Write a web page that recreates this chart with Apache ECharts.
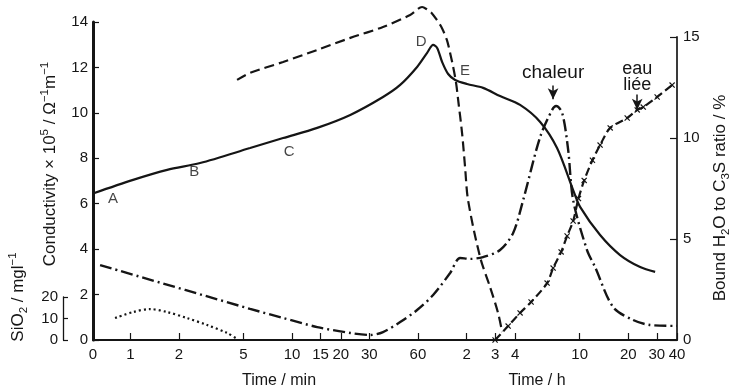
<!DOCTYPE html>
<html>
<head>
<meta charset="utf-8">
<script src="https://cdn.jsdelivr.net/npm/echarts@6.0.0/dist/echarts.min.js"></script>
<style>
  html, body { margin: 0; padding: 0; background: #ffffff; }
  #chart { width: 734px; height: 392px; }
</style>
</head>
<body>
<div id="chart"></div>
<script>
// Time axis: logarithmic in minutes, with the origin "0" placed just left of 1 min.
const tickMinutes = [0, 1, 2, 5, 10, 15, 20, 30, 60, 120, 180, 240, 600, 1200, 1800, 2400];
const tickLabels  = ['0', '1', '2', '5', '10', '15', '20', '30', '60', '2', '3', '4', '10', '20', '30', '40'];

// Conductivity (× 10^5 Ω^-1 m^-1), solid line
const condTime  = [0, 1.04, 1.69, 2.70, 5.5, 8.8, 14.3, 22.9, 36.5, 46.6, 59.3, 68.4, 74.5, 78.9, 84.7, 92.3, 101.9, 120.8, 151.7, 193.2, 257, 342, 435, 547, 604, 803, 1067, 1420, 1758];
const condValue = [6.45, 7.05, 7.49, 7.79, 8.45, 8.89, 9.34, 9.91, 10.70, 11.23, 12.02, 12.64, 12.99, 12.86, 12.24, 11.71, 11.45, 11.27, 11.10, 10.74, 10.35, 9.60, 8.45, 6.60, 5.86, 4.62, 3.74, 3.21, 3.0];

// Second conductivity trace, dashed line
const dashTime  = [4.57, 5.5, 8.8, 14.3, 22.9, 36.5, 53.7, 63.7, 68.4, 73.1, 78.5, 84.4, 90.6, 94.9, 99.1, 103.3, 106.4, 112.5, 117.4, 122.5, 145.4, 167.6, 187.8, 199];
const dashValue = [11.45, 11.76, 12.24, 12.77, 13.30, 13.78, 14.31, 14.66, 14.55, 14.39, 14.09, 13.74, 13.21, 12.64, 12.02, 11.32, 10.57, 9.11, 7.62, 6.16, 3.65, 2.33, 1.19, 0.35];

// Heat flow ("chaleur"), dash-dot line
const heatTime  = [0.65, 5.5, 8.8, 14.3, 22.9, 30.3, 36.5, 46.6, 59.3, 74.5, 94.9, 109.4, 126.1, 151.7, 193.2, 232.8, 268.5, 342, 405.6, 429.5, 467.9, 509.6, 547, 666.6, 747.6, 966, 1284, 1637, 2400];
const heatValue = [3.30, 1.37, 0.97, 0.57, 0.31, 0.22, 0.35, 0.79, 1.32, 1.98, 2.95, 3.61, 3.57, 3.65, 3.96, 4.71, 6.16, 8.94, 10.13, 10.30, 10.0, 8.37, 6.16, 3.96, 3.21, 1.45, 0.88, 0.66, 0.62];

// Dissolved SiO2 (mg/l), dotted line
const silicaTime  = [0.804, 1.04, 1.32, 1.69, 2.24, 2.98, 3.96, 4.57];
const silicaValue = [10.2, 13.0, 14.4, 13.0, 10.2, 7.0, 3.3, 0.5];

// Bound H2O to C3S ratio (%), dashed line with crosses
const boundTime  = [180, 216.8, 257, 300.6, 377.6, 411.4, 461, 502, 547, 590, 640, 720, 803, 927, 1181, 1362, 1484, 1809, 2239];
const boundValue = [0, 0.69, 1.34, 1.88, 2.82, 3.56, 4.36, 5.15, 5.89, 7.0, 7.9, 8.9, 9.65, 10.50, 10.99, 11.39, 11.53, 12.03, 12.62];

// Stage letters on the conductivity curve
const stageNames = ['A', 'B', 'C', 'D', 'E'];
const stageTime  = [0.78, 2.48, 9.6, 62.8, 117.5];
const stageValue = [6.2, 7.4, 8.28, 13.12, 11.85];

// Arrow markers
const heatArrowTime = 411, heatArrowFrom = 11.2, heatArrowTo = 10.6;
const boundArrowTime = 1362, boundArrowFrom = 12.15, boundArrowTo = 11.4;

const FONT = "'Liberation Sans', Arial, Helvetica, sans-serif";
const INK = '#151515';

const AXIS_START = -0.231;              // position of the "0" origin on the log scale
const AXIS_END = Math.log10(2400);      // 40 h
function xPos(t) { return t <= 0 ? AXIS_START : Math.log10(t); }
function pairs(ts, vs) { return ts.map((t, i) => [xPos(t), vs[i]]); }

const tickPos = tickMinutes.map(xPos);
function tickLabel(v) {
  let best = 0;
  for (let i = 1; i < tickPos.length; i++) {
    if (Math.abs(tickPos[i] - v) < Math.abs(tickPos[best] - v)) best = i;
  }
  return tickLabels[best];
}

const crossPath = 'path://M0,1.4L1.4,0L5,3.6L8.6,0L10,1.4L6.4,5L10,8.6L8.6,10L5,6.4L1.4,10L0,8.6L3.6,5Z';

const gridBox = { left: 93, right: 57, bottom: 52 };
const hiddenX = (g) => ({ gridIndex: g, type: 'value', min: AXIS_START, max: AXIS_END, show: false });

const titleRich = {
  n:   { fontSize: 17, lineHeight: 23, verticalAlign: 'middle', fontFamily: FONT, fill: INK },
  sup: { fontSize: 11.5, lineHeight: 11, verticalAlign: 'top', fontFamily: FONT, fill: INK },
  sub: { fontSize: 11.5, lineHeight: 17, verticalAlign: 'bottom', fontFamily: FONT, fill: INK }
};

const chart = echarts.init(document.getElementById('chart'), null, { renderer: 'canvas' });

chart.setOption({
  animation: false,
  backgroundColor: '#ffffff',
  textStyle: { fontFamily: FONT, color: INK },
  grid: [
    Object.assign({ top: 22 }, gridBox),
    Object.assign({ top: 37 }, gridBox),
    Object.assign({ top: 297 }, gridBox)
  ],
  xAxis: [
    {
      gridIndex: 0, type: 'value', min: AXIS_START, max: AXIS_END,
      axisLine: { show: true, onZero: false, lineStyle: { color: INK, width: 2 } },
      axisTick: { show: true, inside: true, length: 7, customValues: tickPos, lineStyle: { color: INK, width: 1.2 } },
      axisLabel: { customValues: tickPos, formatter: tickLabel, margin: 7, fontSize: 15, color: INK, fontFamily: FONT },
      splitLine: { show: false }
    },
    hiddenX(1),
    hiddenX(2)
  ],
  yAxis: [
    {
      gridIndex: 0, type: 'value', position: 'left', min: 0, max: 14, interval: 2,
      axisLine: { show: true, onZero: false, lineStyle: { color: INK, width: 3 } },
      axisTick: { show: true, inside: true, length: 6, lineStyle: { color: INK, width: 1.2 } },
      axisLabel: { margin: 5, fontSize: 15, color: INK, fontFamily: FONT, showMinLabel: true, showMaxLabel: true },
      splitLine: { show: false }
    },
    {
      gridIndex: 1, type: 'value', position: 'right', min: 0, max: 15, interval: 5,
      axisLine: { show: true, onZero: false, lineStyle: { color: '#3a3a3a', width: 2 } },
      axisTick: { show: true, inside: true, length: 7, lineStyle: { color: INK, width: 1.2 } },
      axisLabel: { margin: 6, fontSize: 15, color: INK, fontFamily: FONT, showMinLabel: true, showMaxLabel: true },
      splitLine: { show: false }
    },
    {
      gridIndex: 2, type: 'value', position: 'left', offset: 30, min: 0, max: 20, interval: 10,
      axisLine: { show: true, onZero: false, lineStyle: { color: INK, width: 1.3 } },
      axisTick: { show: true, inside: true, length: 5, lineStyle: { color: INK, width: 1.2 } },
      axisLabel: { margin: 5, fontSize: 15, color: INK, fontFamily: FONT, showMinLabel: true, showMaxLabel: true },
      splitLine: { show: false }
    }
  ],
  series: [
    {
      name: 'conductivity', type: 'line', xAxisIndex: 0, yAxisIndex: 0,
      data: pairs(condTime, condValue), smooth: 0.3, showSymbol: false, clip: false,
      lineStyle: { color: INK, width: 2.2 }
    },
    {
      name: 'conductivity-2', type: 'line', xAxisIndex: 0, yAxisIndex: 0,
      data: pairs(dashTime, dashValue), smooth: 0.3, showSymbol: false, clip: false,
      lineStyle: { color: INK, width: 2.2, type: [10, 5] }
    },
    {
      name: 'chaleur', type: 'line', xAxisIndex: 0, yAxisIndex: 0,
      data: pairs(heatTime, heatValue), smooth: 0.3, showSymbol: false, clip: false,
      lineStyle: { color: INK, width: 2.4, type: [12, 4, 2, 4] },
      markLine: {
        silent: true, symbol: ['none', 'arrow'], symbolSize: [8, 11],
        lineStyle: { color: INK, width: 1.5, type: 'solid' },
        label: { show: true, position: 'start', distance: 3, formatter: 'chaleur', fontSize: 19, color: INK, fontFamily: FONT },
        data: [[{ coord: [xPos(heatArrowTime), heatArrowFrom] }, { coord: [xPos(heatArrowTime), heatArrowTo] }]]
      }
    },
    {
      name: 'SiO2', type: 'line', xAxisIndex: 2, yAxisIndex: 2,
      data: pairs(silicaTime, silicaValue), smooth: 0.3, showSymbol: false, clip: false,
      lineStyle: { color: INK, width: 2.2, type: [2, 3] }
    },
    {
      name: 'eau liée', type: 'line', xAxisIndex: 1, yAxisIndex: 1,
      data: pairs(boundTime, boundValue), smooth: 0.3, clip: false,
      showSymbol: true, symbol: crossPath, symbolSize: 6,
      itemStyle: { color: INK },
      lineStyle: { color: INK, width: 2.2, type: [8, 4] },
      markLine: {
        silent: true, symbol: ['none', 'arrow'], symbolSize: [8, 11],
        lineStyle: { color: INK, width: 1.5, type: 'solid' },
        label: { show: true, position: 'start', distance: 2, formatter: 'eau\nliée', lineHeight: 16, fontSize: 18, color: INK, fontFamily: FONT },
        data: [[{ coord: [xPos(boundArrowTime), boundArrowFrom] }, { coord: [xPos(boundArrowTime), boundArrowTo] }]]
      }
    },
    {
      name: 'stages', type: 'scatter', xAxisIndex: 0, yAxisIndex: 0,
      symbolSize: 0, silent: true,
      data: stageNames.map((n, i) => ({ name: n, value: [xPos(stageTime[i]), stageValue[i]] })),
      label: {
        show: true, position: [0, 0], align: 'center', verticalAlign: 'middle',
        formatter: (p) => p.name, fontSize: 15, color: INK, fontFamily: FONT,
        textBorderWidth: 0
      }
    }
  ],
  graphic: [
    {
      type: 'text', x: 50, y: 164, rotation: Math.PI / 2,
      style: {
        text: '{n|Conductivity × 10}{sup|5}{n| / Ω}{sup|−1}{n|m}{sup|−1}',
        rich: titleRich, align: 'center', verticalAlign: 'middle'
      }
    },
    {
      type: 'text', x: 18, y: 297, rotation: Math.PI / 2,
      style: {
        text: '{n|SiO}{sub|2}{n| / mgl}{sup|−1}',
        rich: titleRich, align: 'center', verticalAlign: 'middle'
      }
    },
    {
      type: 'text', x: 720, y: 198, rotation: Math.PI / 2,
      style: {
        text: '{n|Bound H}{sub|2}{n|O to C}{sub|3}{n|S ratio / %}',
        rich: titleRich, align: 'center', verticalAlign: 'middle'
      }
    },
    {
      type: 'text', x: 279, y: 381,
      style: { text: 'Time / min', fontSize: 16, fontFamily: FONT, fill: INK, align: 'center', verticalAlign: 'middle' }
    },
    {
      type: 'text', x: 537, y: 381,
      style: { text: 'Time / h', fontSize: 16, fontFamily: FONT, fill: INK, align: 'center', verticalAlign: 'middle' }
    }
  ]
});
</script>
</body>
</html>
